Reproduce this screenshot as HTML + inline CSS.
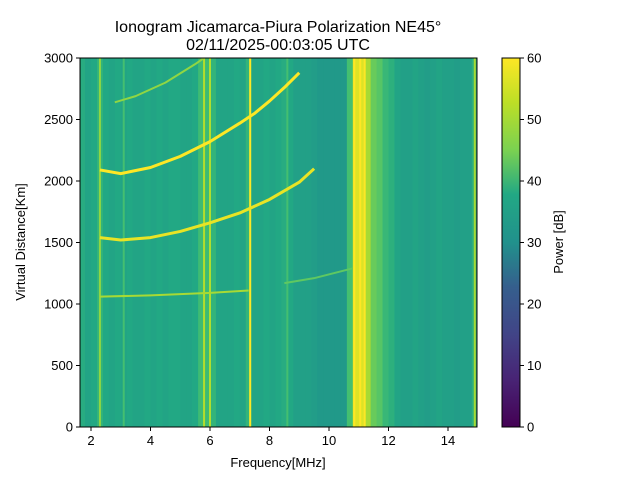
<!DOCTYPE html>
<html><head><meta charset="utf-8"><style>
body{margin:0;background:#fff;font-family:"Liberation Sans",sans-serif}
svg text{font-family:"Liberation Sans",sans-serif;fill:#000}
</style></head><body>
<svg id="chart" width="640" height="480" viewBox="0 0 640 480">
<defs>
<linearGradient id="vir" x1="0" y1="1" x2="0" y2="0">
<stop offset="0" stop-color="#440154"/><stop offset="0.13" stop-color="#482475"/><stop offset="0.25" stop-color="#414487"/><stop offset="0.38" stop-color="#355f8d"/><stop offset="0.5" stop-color="#21918c"/><stop offset="0.63" stop-color="#22a884"/><stop offset="0.75" stop-color="#7ad151"/><stop offset="0.88" stop-color="#bddf26"/><stop offset="1" stop-color="#fde725"/>
</linearGradient>
<clipPath id="pc"><rect x="80" y="58" width="397" height="369"/></clipPath>
</defs>
<text x="278" y="32" font-size="16" text-anchor="middle">Ionogram Jicamarca-Piura Polarization NE45°</text>
<text x="278" y="50" font-size="16" text-anchor="middle">02/11/2025-00:03:05 UTC</text>
<g id="plot" clip-path="url(#pc)"></g>
<rect x="80" y="58" width="397" height="369" fill="none" stroke="#000"/>
<g id="axes"></g>
<text x="278" y="467" font-size="13" text-anchor="middle">Frequency[MHz]</text>
<text x="25" y="242" font-size="13" text-anchor="middle" transform="rotate(-90 25 242)">Virtual Distance[Km]</text>
<rect x="502" y="58" width="18" height="369" fill="url(#vir)" stroke="#000"/>
<text x="563" y="242" font-size="13" text-anchor="middle" transform="rotate(-90 563 242)">Power [dB]</text>
</svg>
<script>
const binStart=1.6, binStep=0.2;
const binPower=[37,35,36,39,36,35,36,35,36,35,35,36,35,36,35,36,36,35,35,36,41,41,39,35,35,35,36,35,39,35,35,36,35,36,37,36,34,34,34,33,32,32,32,32,32,42,57,57,52,46,44,40,38,35,34,34,35,34,33,34,35,34,34,33,34,34,38,40];
const lineFreqs=[2.3,5.8,6.0,7.35,10.85,11.05,11.2,14.9,8.6,3.1];
const linePower=[50,53,53,60,60,60,60,52,42,42];
const trace1F=[2.3,4,6,7.3],trace1D=[1060,1070,1090,1110];
const trace1bF=[8.5,9.5,10.8],trace1bD=[1170,1210,1290];
const trace2F=[2.3,3,4,5,6,7,8,9,9.5],trace2D=[1540,1520,1540,1590,1660,1740,1850,1990,2100];
const trace3F=[2.3,3,4,5,6,7,7.5,8,8.5,9],trace3D=[2090,2060,2110,2200,2320,2470,2550,2650,2760,2880];
const trace4F=[2.8,3.5,4.5,5.5,5.8],trace4D=[2640,2690,2800,2950,3000];
const tracePower=[52,45,58,60,50];
const xTicks=[2,4,6,8,10,12,14], yTicks=[0,500,1000,1500,2000,2500,3000], cTicks=[0,10,20,30,40,50,60];
const X=f=>91+(f-2)*29.75, Y=d=>427-d*0.123, C=p=>427-p*369/60;
const vir=["#440154","#482475","#414487","#355f8d","#2a788e","#21918c","#22a884","#44bf70","#7ad151","#bddf26","#fde725"];
function col(p){let t=Math.max(0,Math.min(1,p/60))*10,i=Math.min(9,Math.floor(t));return mix(vir[i],vir[i+1],t-i);}
function mix(a,b,t){const pa=[1,3,5].map(k=>parseInt(a.substr(k,2),16)),pb=[1,3,5].map(k=>parseInt(b.substr(k,2),16));return"rgb("+pa.map((v,j)=>Math.round(v+(pb[j]-v)*t)).join(",")+")";}
const NS="http://www.w3.org/2000/svg",plot=document.getElementById('plot'),axes=document.getElementById('axes');
function mk(tag,at,par){const e=document.createElementNS(NS,tag);for(const k in at)e.setAttribute(k,at[k]);par.appendChild(e);return e;}
binPower.forEach((p,i)=>{const f=binStart+i*binStep;
const r=mk('rect',{x:X(f),y:58,width:X(f+binStep)-X(f)+0.5,height:369,fill:col(p)},plot);

});
lineFreqs.forEach((f,i)=>{
const r=mk('rect',{x:X(f)-1,y:58,width:2,height:369,fill:col(linePower[i])},plot);

});
[[trace1F,trace1D],[trace1bF,trace1bD],[trace2F,trace2D],[trace3F,trace3D],[trace4F,trace4D]].forEach(([F,D],k)=>{
const p=mk('polyline',{points:F.map((f,i)=>X(f)+","+Y(D[i])).join(" "),fill:"none",stroke:col(tracePower[k]),'stroke-width':k>=2&&k<4?3:2,'stroke-linejoin':'round'},plot);

});
xTicks.forEach(v=>{mk('line',{x1:X(v),x2:X(v),y1:427,y2:431,stroke:"#000"},axes);
const t=mk('text',{x:X(v),y:445,'font-size':13,'text-anchor':'middle'},axes);t.textContent=v;

});
yTicks.forEach(v=>{mk('line',{x1:76,x2:80,y1:Y(v),y2:Y(v),stroke:"#000"},axes);
const t=mk('text',{x:73,y:Y(v)+4.5,'font-size':13,'text-anchor':'end'},axes);t.textContent=v;

});
cTicks.forEach(v=>{mk('line',{x1:520,x2:524,y1:C(v),y2:C(v),stroke:"#000"},axes);
const t=mk('text',{x:527,y:C(v)+4.5,'font-size':13},axes);t.textContent=v;

});
</script>
</body></html>
